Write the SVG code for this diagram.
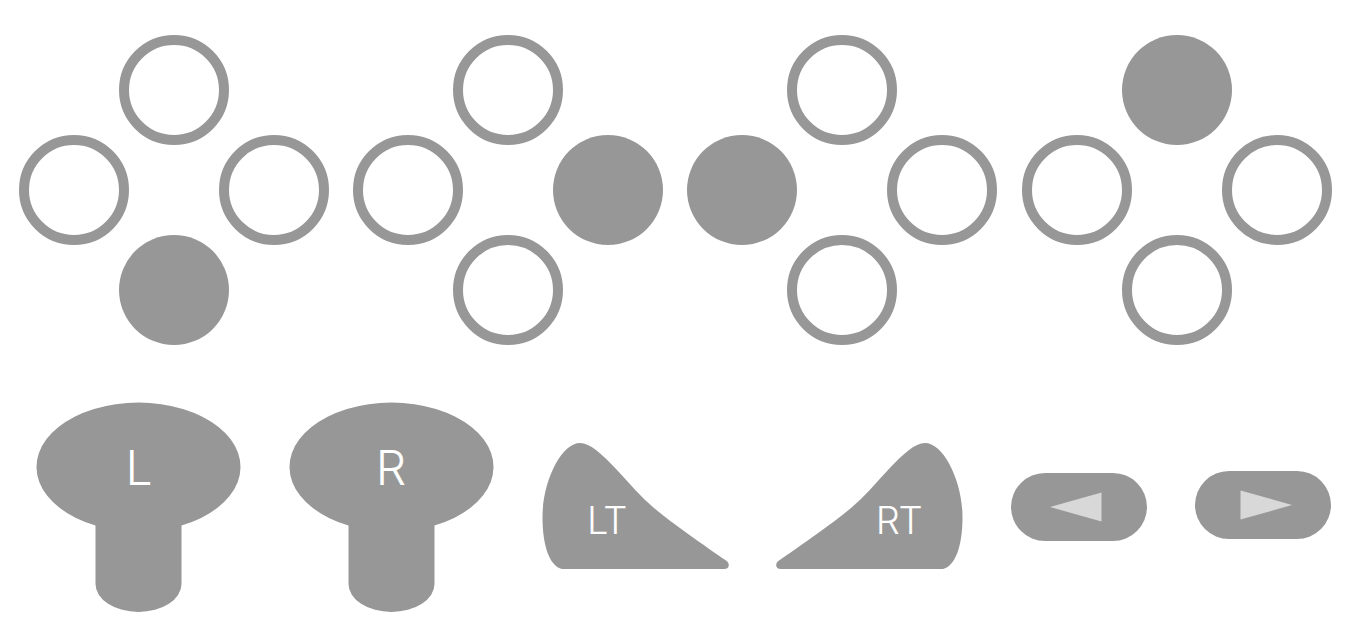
<svg xmlns="http://www.w3.org/2000/svg" width="1366" height="643" viewBox="0 0 1366 643">
<style>
.o{fill:none;stroke:#979797;stroke-width:10}
.f{fill:#979797}
.t{fill:#fff;font-family:Inter,"Liberation Sans",sans-serif;font-weight:300;text-anchor:middle}
.a{fill:#d8d8d8}
</style>
<defs>
<path id="trig" d="M580 443C590 443 602 454 617 470C630 484 641 497 654 508C673 524 705 546 726 560.500C730 563 730 569 724 569L562 569C550 566 542.500 547 542.500 517C542.500 480 562 443 580 443Z"/>
<path id="stick" d="M95.500 525.500A102 64.500 0 1 1 181.500 525.500L181.500 584A43 28 0 0 1 95.500 584Z"/>
</defs>
<g id="dpad-down"><circle class="o" cx="174" cy="90" r="50"/><circle class="o" cx="74" cy="190" r="50"/><circle class="o" cx="274" cy="190" r="50"/><circle class="f" cx="174" cy="290" r="55"/></g>
<g id="dpad-right"><circle class="o" cx="508" cy="90" r="50"/><circle class="o" cx="408" cy="190" r="50"/><circle class="f" cx="608" cy="190" r="55"/><circle class="o" cx="508" cy="290" r="50"/></g>
<g id="dpad-left"><circle class="o" cx="842" cy="90" r="50"/><circle class="f" cx="742" cy="190" r="55"/><circle class="o" cx="942" cy="190" r="50"/><circle class="o" cx="842" cy="290" r="50"/></g>
<g id="dpad-up"><circle class="f" cx="1177" cy="90" r="55"/><circle class="o" cx="1077" cy="190" r="50"/><circle class="o" cx="1277" cy="190" r="50"/><circle class="o" cx="1177" cy="290" r="50"/></g>
<g id="stick-l"><use href="#stick" class="f"/><text class="t" x="139" y="485" font-size="48">L</text></g>
<g id="stick-r"><use href="#stick" class="f" transform="translate(253 0)"/><text class="t" x="391" y="485" font-size="48">R</text></g>
<g id="trigger-lt"><use href="#trig" class="f"/><text class="t" x="606.500" y="534" font-size="38" letter-spacing="-1.500">LT</text></g>
<g id="trigger-rt"><use href="#trig" class="f" transform="matrix(-1 0 0 1 1505 0)"/><text class="t" x="898.500" y="534" font-size="38" letter-spacing="-1.500">RT</text></g>
<g id="button-back"><rect class="f" x="1011" y="473" width="136" height="68" rx="34"/><polygon class="a" points="1050,507 1101.500,492.500 1101.500,521.500"/></g>
<g id="button-start"><rect class="f" x="1195" y="471" width="136" height="68" rx="34"/><polygon class="a" points="1240.500,490.500 1240.500,519.500 1292,505"/></g>
</svg>
